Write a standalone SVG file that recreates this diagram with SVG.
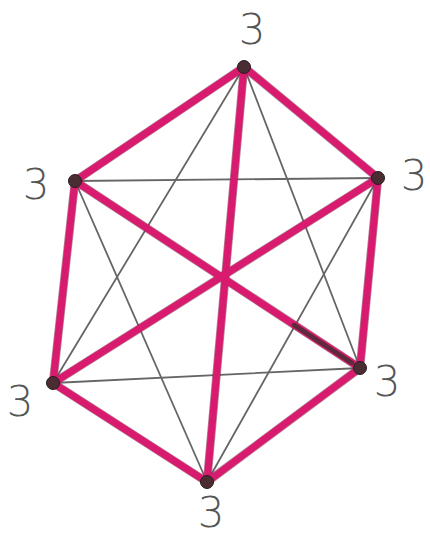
<svg xmlns="http://www.w3.org/2000/svg" width="430" height="538" viewBox="0 0 430 538">
<style>
.thick{stroke:#d81b6f;stroke-width:7;stroke-linecap:round;fill:none}
.under{stroke:#7a2346;stroke-width:8.5;stroke-linecap:round;fill:none;opacity:0.55}
.thin{stroke:#666;stroke-width:1.8;stroke-linecap:round;fill:none}
.v{fill:#4a2d33;stroke:#2a1a1e;stroke-width:1}
.lbl{font-family:"DejaVu Sans",sans-serif;font-size:42px;fill:#555;font-weight:300;text-anchor:middle}
</style>
<rect width="430" height="538" fill="#fff"/>
<g id="connectors">
<g id="thin-edges">
<line class="thin" x1="244" y1="67" x2="360" y2="368"/>
<line class="thin" x1="244" y1="67" x2="53" y2="383"/>
<line class="thin" x1="53" y1="383" x2="360" y2="368"/>
<line class="thin" x1="75" y1="181" x2="378" y2="178"/>
<line class="thin" x1="75" y1="181" x2="207" y2="482"/>
<line class="thin" x1="378" y1="178" x2="207" y2="482"/>
</g>
<g id="thick-under">
<line class="under" x1="244" y1="67" x2="378" y2="178"/>
<line class="under" x1="378" y1="178" x2="360" y2="368"/>
<line class="under" x1="360" y1="368" x2="207" y2="482"/>
<line class="under" x1="207" y1="482" x2="53" y2="383"/>
<line class="under" x1="53" y1="383" x2="75" y2="181"/>
<line class="under" x1="75" y1="181" x2="244" y2="67"/>
<line class="under" x1="244" y1="67" x2="207" y2="482"/>
<line class="under" x1="75" y1="181" x2="360" y2="368"/>
<line class="under" x1="378" y1="178" x2="53" y2="383"/>
</g>
<g id="thick-edges">
<line class="thick" x1="244" y1="67" x2="378" y2="178"/>
<line class="thick" x1="378" y1="178" x2="360" y2="368"/>
<line class="thick" x1="360" y1="368" x2="207" y2="482"/>
<line class="thick" x1="207" y1="482" x2="53" y2="383"/>
<line class="thick" x1="53" y1="383" x2="75" y2="181"/>
<line class="thick" x1="75" y1="181" x2="244" y2="67"/>
<line class="thick" x1="244" y1="67" x2="207" y2="482"/>
<line class="thick" x1="75" y1="181" x2="360" y2="368"/>
<line class="thick" x1="378" y1="178" x2="53" y2="383"/>
</g>
<line x1="294" y1="325" x2="352" y2="363" stroke="#4a2d33" stroke-width="4.5" stroke-linecap="round" opacity="0.85"/>
</g>
<g id="node-top"><circle class="v" cx="244" cy="67" r="6.5"/><text class="lbl" x="252" y="44">3</text></g>
<g id="node-upper-right"><circle class="v" cx="378" cy="178" r="6.5"/><text class="lbl" x="414" y="190">3</text></g>
<g id="node-lower-right"><circle class="v" cx="360" cy="368" r="6.5"/><text class="lbl" x="387" y="396">3</text></g>
<g id="node-bottom"><circle class="v" cx="207" cy="482" r="6.5"/><text class="lbl" x="211" y="527">3</text></g>
<g id="node-lower-left"><circle class="v" cx="53" cy="383" r="6.5"/><text class="lbl" x="20" y="416">3</text></g>
<g id="node-upper-left"><circle class="v" cx="75" cy="181" r="6.5"/><text class="lbl" x="36" y="199">3</text></g>
</svg>
